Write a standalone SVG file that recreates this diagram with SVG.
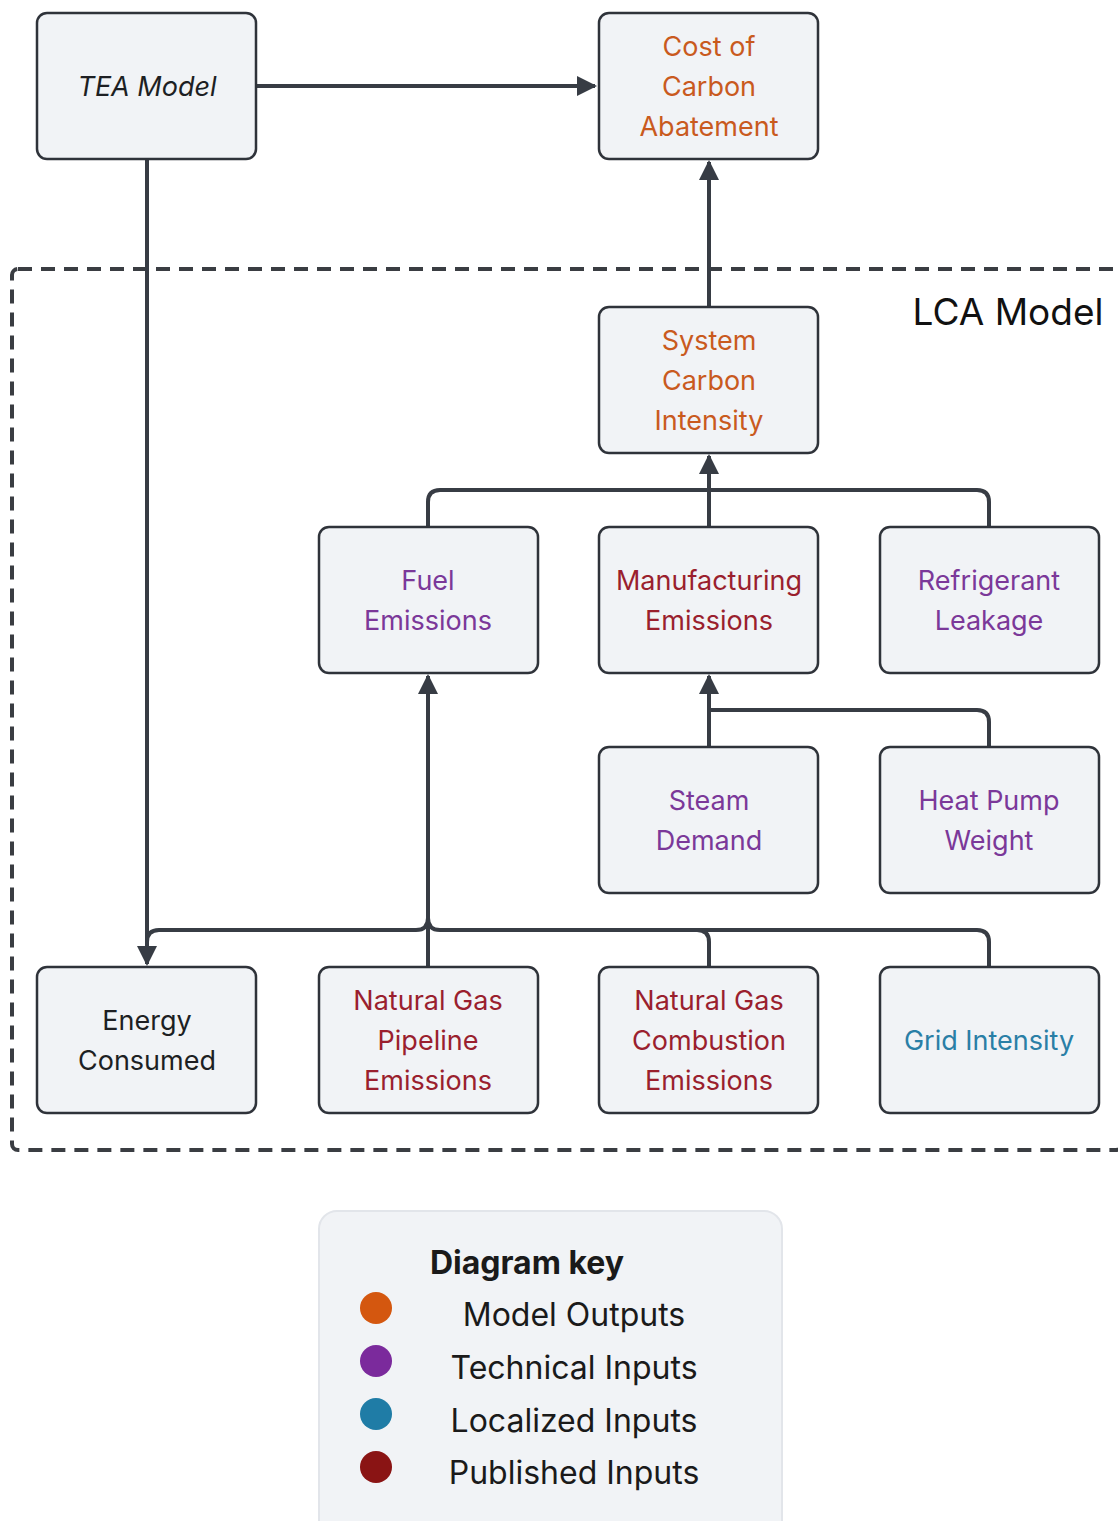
<svg xmlns="http://www.w3.org/2000/svg" width="1118" height="1521" viewBox="0 0 1118 1521">
<style>
.node rect{fill:#f1f3f6;stroke:#2f333a;stroke-width:2.5}
.node text,.lbl{font-family:Inter,"Noto Sans",sans-serif;font-size:27px;text-anchor:middle}
.out{fill:#c95a1e}.tech{fill:#7b3899}.pub{fill:#9a1f2e}.loc{fill:#2a7fa6}.blk{fill:#1d1f23}
.conn path{fill:none;stroke:#373c44;stroke-width:4}
.key{font-family:Inter,"Noto Sans",sans-serif;font-size:32px;fill:#1a1a1a;text-anchor:middle}
</style>
<defs>
<marker id="arr" viewBox="0 0 10 10" refX="9" refY="5" markerWidth="5.5" markerHeight="5" orient="auto" markerUnits="strokeWidth">
<path d="M0,0 L10,5 L0,10 z" fill="#373c44"/>
</marker>
</defs>
<rect width="1118" height="1521" fill="#ffffff"/>
<g id="lca-boundary">
<rect x="12" y="269" width="1110" height="881" rx="6" fill="none" stroke="#3a3d42" stroke-width="4" stroke-dasharray="14,9"/>
<text x="1008" y="325" font-family="Inter,'Noto Sans',sans-serif" font-size="37" fill="#111" text-anchor="middle">LCA Model</text>
</g>
<g class="conn" id="connectors">
<path d="M256,86 H595" marker-end="url(#arr)"/>
<path d="M709,307 V162" marker-end="url(#arr)"/>
<path d="M428,527 V502 Q428,490 440,490 H977 Q989,490 989,502 V527"/>
<path d="M709,527 V456" marker-end="url(#arr)"/>
<path d="M709,747 V676" marker-end="url(#arr)"/>
<path d="M989,747 V722 Q989,710 977,710 H709"/>
<path d="M428,967 V676" marker-end="url(#arr)"/>
<path d="M147,159 V964" marker-end="url(#arr)"/>
<path d="M147,942 Q147,930 159,930 H416 Q428,930 428,918"/>
<path d="M428,918 Q428,930 440,930 H697 Q709,930 709,942 V967"/>
<path d="M697,930 H977 Q989,930 989,942 V967"/>
</g>
<g class="node" id="tea-model"><rect x="37" y="13" width="219" height="146" rx="10"/><text x="147" y="96" class="blk" font-style="italic">TEA Model</text></g>
<g class="node" id="cost-of-carbon-abatement"><rect x="599" y="13" width="219" height="146" rx="10"/><text x="709" class="out"><tspan x="709" y="56">Cost of</tspan><tspan x="709" y="96">Carbon</tspan><tspan x="709" y="136">Abatement</tspan></text></g>
<g class="node" id="system-carbon-intensity"><rect x="599" y="307" width="219" height="146" rx="10"/><text class="out"><tspan x="709" y="350">System</tspan><tspan x="709" y="390">Carbon</tspan><tspan x="709" y="430">Intensity</tspan></text></g>
<g class="node" id="fuel-emissions"><rect x="319" y="527" width="219" height="146" rx="10"/><text class="tech"><tspan x="428" y="590">Fuel</tspan><tspan x="428" y="630">Emissions</tspan></text></g>
<g class="node" id="manufacturing-emissions"><rect x="599" y="527" width="219" height="146" rx="10"/><text class="pub"><tspan x="709" y="590">Manufacturing</tspan><tspan x="709" y="630">Emissions</tspan></text></g>
<g class="node" id="refrigerant-leakage"><rect x="880" y="527" width="219" height="146" rx="10"/><text class="tech"><tspan x="989" y="590">Refrigerant</tspan><tspan x="989" y="630">Leakage</tspan></text></g>
<g class="node" id="steam-demand"><rect x="599" y="747" width="219" height="146" rx="10"/><text class="tech"><tspan x="709" y="810">Steam</tspan><tspan x="709" y="850">Demand</tspan></text></g>
<g class="node" id="heat-pump-weight"><rect x="880" y="747" width="219" height="146" rx="10"/><text class="tech"><tspan x="989" y="810">Heat Pump</tspan><tspan x="989" y="850">Weight</tspan></text></g>
<g class="node" id="energy-consumed"><rect x="37" y="967" width="219" height="146" rx="10"/><text class="blk"><tspan x="147" y="1030">Energy</tspan><tspan x="147" y="1070">Consumed</tspan></text></g>
<g class="node" id="natural-gas-pipeline-emissions"><rect x="319" y="967" width="219" height="146" rx="10"/><text class="pub"><tspan x="428" y="1010">Natural Gas</tspan><tspan x="428" y="1050">Pipeline</tspan><tspan x="428" y="1090">Emissions</tspan></text></g>
<g class="node" id="natural-gas-combustion-emissions"><rect x="599" y="967" width="219" height="146" rx="10"/><text class="pub"><tspan x="709" y="1010">Natural Gas</tspan><tspan x="709" y="1050">Combustion</tspan><tspan x="709" y="1090">Emissions</tspan></text></g>
<g class="node" id="grid-intensity"><rect x="880" y="967" width="219" height="146" rx="10"/><text x="989" y="1050" class="loc">Grid Intensity</text></g>
<g id="diagram-key">
<rect x="319" y="1211" width="463" height="330" rx="18" fill="#f1f3f6" stroke="#e2e5ea" stroke-width="2"/>
<text x="527" y="1274" class="key" font-weight="bold" font-size="31">Diagram key</text>
<circle cx="376" cy="1308" r="16" fill="#d4570f"/>
<circle cx="376" cy="1361" r="16" fill="#7b2a9c"/>
<circle cx="376" cy="1414" r="16" fill="#1f7ca6"/>
<circle cx="376" cy="1467" r="16" fill="#8a1414"/>
<text x="574" y="1326" class="key">Model Outputs</text>
<text x="574" y="1379" class="key">Technical Inputs</text>
<text x="574" y="1432" class="key">Localized Inputs</text>
<text x="574" y="1484" class="key">Published Inputs</text>
</g>
</svg>
